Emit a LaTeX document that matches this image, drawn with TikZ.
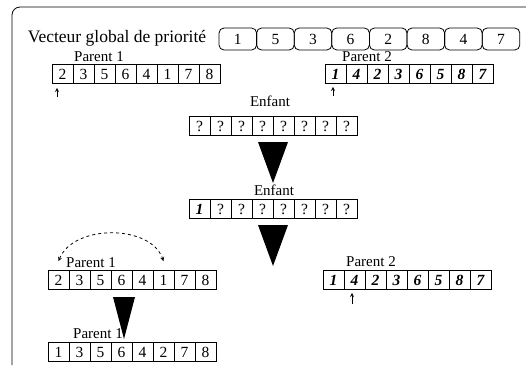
\documentclass[tikz,border=0pt]{standalone}
\usepackage{fontspec}
\setmainfont{Liberation Serif}
\begin{document}
\begin{tikzpicture}[x=1pt,y=-1pt,line width=0.8pt,
  cell/.style={draw,minimum width=21pt,minimum height=19pt,inner sep=0pt,font=\fontsize{15.5}{15.5}\selectfont},
  bcell/.style={cell,font=\fontsize{15.5}{15.5}\selectfont\bfseries\itshape},
  glob/.style={draw,rounded corners=5pt,minimum width=37.6pt,minimum height=22pt,inner sep=0pt,font=\fontsize{15.5}{15.5}\selectfont},
  lbl/.style={inner sep=0pt,font=\fontsize{15}{15}\selectfont}]
\useasboundingbox (0,0) rectangle (526,365);
%frame
\draw[rounded corners=8pt] (12,365) -- (12,7) -- (526,7);
%global vector
\node[inner sep=0pt,font=\fontsize{17.5}{18}\selectfont] (titre) at (117,38) {Vecteur global de priorité};
\foreach \v [count=\i] in {1,5,3,6,2,8,4,7}
	\node[glob] (g-\i) at (200.2+37.6*\i,39) {\v};
%parents
\node[lbl] (lp1) at (99,57) {Parent 1};
\foreach \v [count=\i] in {2,3,5,6,4,1,7,8}
	\node[cell] (pa-\i) at (41.5+21*\i,74) {\v};
\node[lbl] (lp2) at (367,57) {Parent 2};
\foreach \v [count=\i] in {1,4,2,3,6,5,8,7}
	\node[bcell] (pb-\i) at (314.5+21*\i,74) {\v};
\coordinate (ma) at (57,97);
\coordinate (mb) at (333,96);
\draw[-stealth,shorten >=4pt] (ma) -- (ma |- pa-1.south);
\draw[-stealth,shorten >=3pt] (mb) -- (mb |- pb-1.south);
%child
\node[lbl] (le1) at (270,101) {Enfant};
\foreach \i in {1,...,8}
	\node[cell] (ea-\i) at (178.5+21*\i,126) {?};
\fill (258,142) -- (288,142) -- (273,183) -- cycle;
\node[lbl] (le2) at (274,190) {Enfant};
\node[bcell] (eb-1) at (199.5,209) {1};
\foreach \i in {2,...,8}
	\node[cell] (eb-\i) at (178.5+21*\i,209) {?};
\fill (258,225) -- (288,225) -- (273,266) -- cycle;
%exchange
\node[lbl] (lp3) at (91,263) {Parent 1};
\foreach \v [count=\i] in {2,3,5,6,4,1,7,8}
	\node[cell] (pc-\i) at (37.5+21*\i,280) {\v};
\draw[dashed,stealth-stealth] ([yshift=9pt]pc-1.north) .. controls +(15,-37) and +(-13,-37) .. ([yshift=9pt]pc-6.north);
\node[lbl] (lp4) at (371,262) {Parent 2};
\foreach \v [count=\i] in {1,4,2,3,6,5,8,7}
	\node[bcell] (pd-\i) at (312.5+21*\i,280) {\v};
\coordinate (mc) at (352,304);
\draw[-stealth,shorten >=3pt] (mc) -- (mc |- pd-2.south);
\node[lbl] (lp5) at (98,334) {Parent 1};
\fill (113,297) -- (135,297) -- (124,339) -- cycle;
\foreach \v [count=\i] in {1,3,5,6,4,2,7,8}
	\node[cell] (pe-\i) at (37.5+21*\i,352) {\v};
\end{tikzpicture}
\end{document}
